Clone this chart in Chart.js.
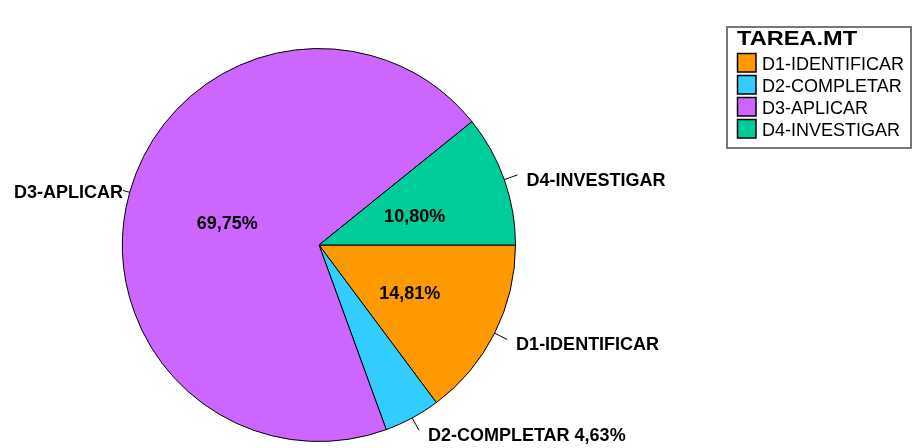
<!DOCTYPE html>
<html>
<head>
<meta charset="utf-8">
<script src="https://cdn.jsdelivr.net/npm/chart.js@4"></script>
<style>
  body { margin: 0; background: #fff; }
  #wrap { width: 913px; height: 448px; position: relative; }
</style>
</head>
<body>
<div id="wrap"><canvas id="myChart"></canvas></div>
<script>
const legendTitle = "TAREA.MT";
const categories = ["D1-IDENTIFICAR", "D2-COMPLETAR", "D3-APLICAR", "D4-INVESTIGAR"];
const percents = [14.81, 4.63, 69.75, 10.80];
const colors = ["#FF9900", "#33CCFF", "#CC66FF", "#00CC99"];

const ctx = document.getElementById("myChart").getContext("2d");

const fmt = (v) => v.toFixed(2).replace(".", ",") + "%";

//labels on and around the slices
const sliceLabels = {
  id: "sliceLabels",
  afterDatasetsDraw(chart) {
    const c = chart.ctx;
    const meta = chart.getDatasetMeta(0);
    const vals = chart.data.datasets[0].data;
    c.save();
    c.font = "bold 18px 'Liberation Sans', Arial, sans-serif";
    c.fillStyle = "#000";
    c.strokeStyle = "#000";
    c.lineWidth = 1;
    meta.data.forEach((arc, i) => {
      const p = arc.getProps(["x", "y", "startAngle", "endAngle", "outerRadius"], true);
      const mid = (p.startAngle + p.endAngle) / 2;
      const cos = Math.cos(mid);
      const sin = Math.sin(mid);
      const r = p.outerRadius;
      const inside = vals[i] >= 5;
      if (inside) {
        c.textAlign = "center";
        c.textBaseline = "middle";
        c.fillText(fmt(vals[i]), p.x + cos * r * 0.5 + 3, p.y + sin * r * 0.5 + 5);
      }
      const right = cos >= 0;
      const len = right ? 14 : 7;
      const ex = p.x + cos * (r + len);
      const ey = p.y + sin * (r + len);
      c.beginPath();
      c.moveTo(p.x + cos * r, p.y + sin * r);
      c.lineTo(ex, ey);
      c.stroke();
      const txt = inside ? chart.data.labels[i] : chart.data.labels[i] + " " + fmt(vals[i]);
      c.textBaseline = "middle";
      if (right) {
        c.textAlign = "left";
        c.fillText(txt, ex + 9, ey + 6);
      } else {
        c.textAlign = "right";
        c.fillText(txt, ex, ey + 3);
      }
    });
    c.restore();
  },
};

//legend box in the top right corner
const boxLegend = {
  id: "boxLegend",
  afterDraw(chart) {
    const c = chart.ctx;
    c.save();
    c.fillStyle = "#fff";
    c.fillRect(727, 27, 184, 121);
    c.strokeStyle = "#777";
    c.lineWidth = 2;
    c.strokeRect(727, 27, 184, 121);
    c.fillStyle = "#000";
    c.textAlign = "left";
    c.textBaseline = "alphabetic";
    c.font = "bold 20px 'Liberation Sans', Arial, sans-serif";
    c.save();
    c.translate(737, 45);
    c.scale(1.18, 1);
    c.fillText(legendTitle, 0, 0);
    c.restore();
    c.font = "18px 'Liberation Sans', Arial, sans-serif";
    categories.forEach((name, i) => {
      const y = 53 + i * 22;
      c.fillStyle = colors[i];
      c.fillRect(737, y, 19, 19);
      c.strokeStyle = "#000";
      c.lineWidth = 1.5;
      c.strokeRect(737.5, y + 0.5, 18.5, 18.5);
      c.fillStyle = "#000";
      c.fillText(name, 762, y + 17);
    });
    c.restore();
  },
};

const myChart = new Chart(ctx, {
  type: "pie",
  data: {
    labels: categories,
    datasets: [
      {
        data: percents,
        backgroundColor: colors,
        borderColor: "#000",
        borderWidth: 1,
      },
    ],
  },
  options: {
    responsive: true,
    maintainAspectRatio: false,
    animation: false,
    rotation: 90,
    layout: {
      padding: { left: 122, right: 397, top: 48, bottom: 6 },
    },
    plugins: {
      legend: { display: false },
      tooltip: { enabled: false },
    },
  },
  plugins: [sliceLabels, boxLegend],
});
</script>
</body>
</html>
